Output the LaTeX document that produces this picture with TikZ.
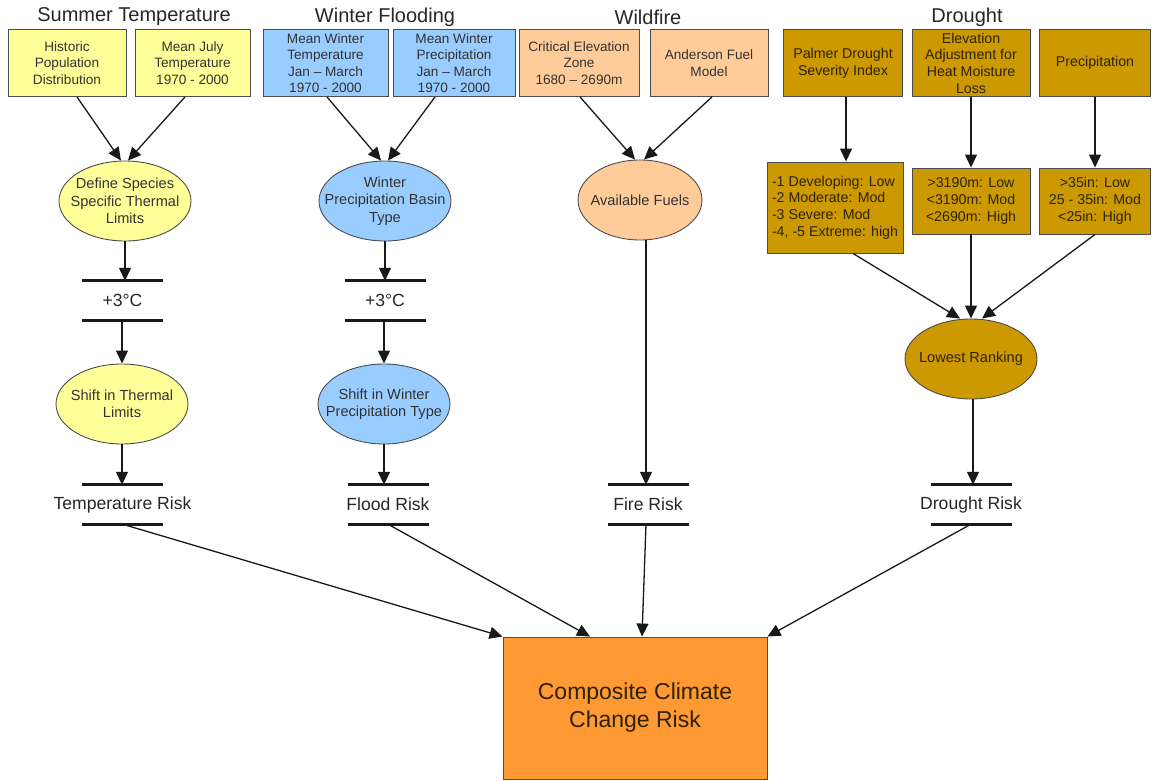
\documentclass[tikz,border=0pt]{standalone}
\usepackage{fontspec}
\setmainfont{Liberation Sans}
\usetikzlibrary{arrows.meta,shapes.geometric,calc}
\definecolor{cyel}{HTML}{FFFF99}
\definecolor{cblue}{HTML}{99CCFF}
\definecolor{cpeach}{HTML}{FFCC99}
\definecolor{cgold}{HTML}{CC9900}
\definecolor{corange}{HTML}{FF9933}
\definecolor{ctext}{HTML}{333333}
\definecolor{cdark}{HTML}{2E2200}
\tikzset{
  titletext/.style={font=\fontsize{20}{23}\selectfont, text=black!85},
  inbox/.style={draw=black!70, line width=0.9pt, rectangle, minimum height=67pt, inner sep=1pt, align=center, text=ctext, font=\fontsize{13.6}{16.5}\selectfont},
  goldbox/.style={inbox, fill=cgold, text=cdark, font=\fontsize{14.2}{16.7}\selectfont},
  oval/.style={draw=black!70, line width=0.9pt, ellipse, minimum width=132pt, minimum height=80pt, inner sep=0pt},
  ovaltext/.style={align=center, text=ctext, inner sep=0pt, font=\fontsize{14.6}{17.5}\selectfont},
  risk/.style={minimum height=39pt, inner sep=0pt, text=black!85, font=\fontsize{17.6}{20}\selectfont},
  barline/.style={line width=3pt, black!90},
  arr/.style={-{Triangle[length=13pt,width=12pt]}, line width=1.3pt, black!90},
}
\begin{document}
\begin{tikzpicture}[x=1pt,y=-1pt]
\useasboundingbox (0,0) rectangle (1154,781);
% titles
\node[titletext] (t1) at (134,17) {Summer Temperature};
\node[titletext] (t2) at (385,17) {Winter Flooding};
\node[titletext] (t3) at (648,17) {Wildfire};
\node[titletext] (t4) at (967,17) {Drought};
% top boxes
\node[inbox, fill=cyel, minimum width=118pt] (hist) at (67,63) {Historic\\Population\\Distribution};
\node[inbox, fill=cyel, minimum width=115pt] (july) at (192.5,63) {Mean July\\Temperature\\1970 - 2000};
\node[inbox, fill=cblue, minimum width=125pt] (mwt) at (325.5,63) {Mean Winter\\Temperature\\Jan -- March\\1970 - 2000};
\node[inbox, fill=cblue, minimum width=122pt] (mwp) at (454,63) {Mean Winter\\Precipitation\\Jan -- March\\1970 - 2000};
\node[inbox, fill=cpeach, minimum width=120pt] (crit) at (579,63) {Critical Elevation\\Zone\\1680 -- 2690m};
\node[inbox, fill=cpeach, minimum width=118pt] (anders) at (709,63) {Anderson Fuel\\Model};
\node[goldbox, minimum width=119pt] (palmer) at (843,63) {Palmer Drought\\Severity Index};
\node[goldbox, minimum width=118pt] (elev) at (971,63) {Elevation\\Adjustment for\\Heat Moisture\\Loss};
\node[goldbox, minimum width=111pt] (precip) at (1095,63) {Precipitation};
% drought level boxes
\node[goldbox, minimum width=136pt, minimum height=91pt, align=left] (plev) at (835,207.5) {-1 Developing: Low\\-2 Moderate: Mod\\-3 Severe: Mod\\-4, -5 Extreme: high};
\node[goldbox, minimum width=118pt, minimum height=66pt] (elev2) at (971,201) {>3190m: Low\\<3190m: Mod\\<2690m: High};
\node[goldbox, minimum width=111pt, minimum height=66pt] (prec2) at (1095,201) {>35in: Low\\25 - 35in: Mod\\<25in: High};
% ellipses
\node[oval, fill=cyel, label={[ovaltext]center:{Define Species\\Specific Thermal\\Limits}}] (defsp) at (125,201) {};
\node[oval, fill=cblue, label={[ovaltext]center:{Winter\\Precipitation Basin\\Type}}] (wpb) at (385,201) {};
\node[oval, fill=cpeach, minimum width=124pt, label={[ovaltext]center:{Available Fuels}}] (fuels) at (640,200) {};
\node[oval, fill=cyel, label={[ovaltext]center:{Shift in Thermal\\Limits}}] (shiftT) at (122,404) {};
\node[oval, fill=cblue, label={[ovaltext]center:{Shift in Winter\\Precipitation Type}}] (shiftW) at (384,404) {};
\node[oval, fill=cgold, label={[ovaltext, text=cdark]center:{Lowest Ranking}}] (lowest) at (971,359) {};
% bar labels
\node[risk] (c1) at (122.5,300.5) {+3°C};
\node[risk] (c2) at (385,300.5) {+3°C};
\node[risk] (trisk) at (122.5,504.5) {Temperature Risk};
\node[risk] (frisk) at (388,504.5) {Flood Risk};
\node[risk] (firisk) at (648,504.5) {Fire Risk};
\node[risk] (drisk) at (971,504.5) {Drought Risk};
\foreach \n in {c1,c2,trisk,frisk,firisk,drisk}{
  \draw[barline] ([xshift=-40.5pt]\n.north) -- ([xshift=40.5pt]\n.north);
  \draw[barline] ([xshift=-40.5pt]\n.south) -- ([xshift=40.5pt]\n.south);
}
% composite
\node[draw=black!70, line width=0.9pt, fill=corange, minimum width=264pt, minimum height=142pt, align=center, text=cdark, font=\fontsize{23}{28}\selectfont] (comp) at (635,708) {Composite Climate\\Change Risk};
% arrows: summer
\draw[arr] ([xshift=10pt]hist.south) -- ([xshift=-4pt]defsp.north);
\draw[arr] ([xshift=-7.5pt]july.south) -- ([xshift=3pt]defsp.north);
\draw[arr] (defsp.south) -- (defsp.south |- c1.north);
\draw[arr] (shiftT.north |- c1.south) -- (shiftT.north);
\draw[arr] (shiftT.south) -- (shiftT.south |- trisk.north);
% winter
\draw[arr] ([xshift=1.5pt]mwt.south) -- ([xshift=-4pt]wpb.north);
\draw[arr] ([xshift=-19pt]mwp.south) -- ([xshift=3pt]wpb.north);
\draw[arr] (wpb.south) -- (wpb.south |- c2.north);
\draw[arr] (shiftW.north |- c2.south) -- (shiftW.north);
\draw[arr] (shiftW.south) -- (shiftW.south |- frisk.north);
% wildfire
\draw[arr] ([xshift=1pt]crit.south) -- ([xshift=-5pt]fuels.north);
\draw[arr] ([xshift=3pt]anders.south) -- ([xshift=4pt]fuels.north);
\draw[arr] ([xshift=6pt]fuels.south) -- ([xshift=6pt]fuels.south |- firisk.north);
% drought
\draw[arr] ([xshift=3pt]palmer.south) -- ([xshift=3pt]palmer.south |- plev.north);
\draw[arr] (elev.south) -- (elev.south |- elev2.north);
\draw[arr] (precip.south) -- (precip.south |- prec2.north);
\draw[arr] ([xshift=18pt]plev.south) -- ([xshift=-11pt]lowest.north);
\draw[arr] (elev2.south) -- (lowest.north);
\draw[arr] (prec2.south) -- ([xshift=11pt]lowest.north);
\draw[arr] ([xshift=2pt]lowest.south) -- ([xshift=2pt]lowest.south |- drisk.north);
% to composite
\draw[arr] (trisk.south) -- (comp.north west);
\draw[arr] (frisk.south) -- ([xshift=-45pt]comp.north);
\draw[arr] ([xshift=-2pt]firisk.south) -- ([xshift=7pt]comp.north);
\draw[arr] (drisk.south) -- (comp.north east);
\end{tikzpicture}
\end{document}
